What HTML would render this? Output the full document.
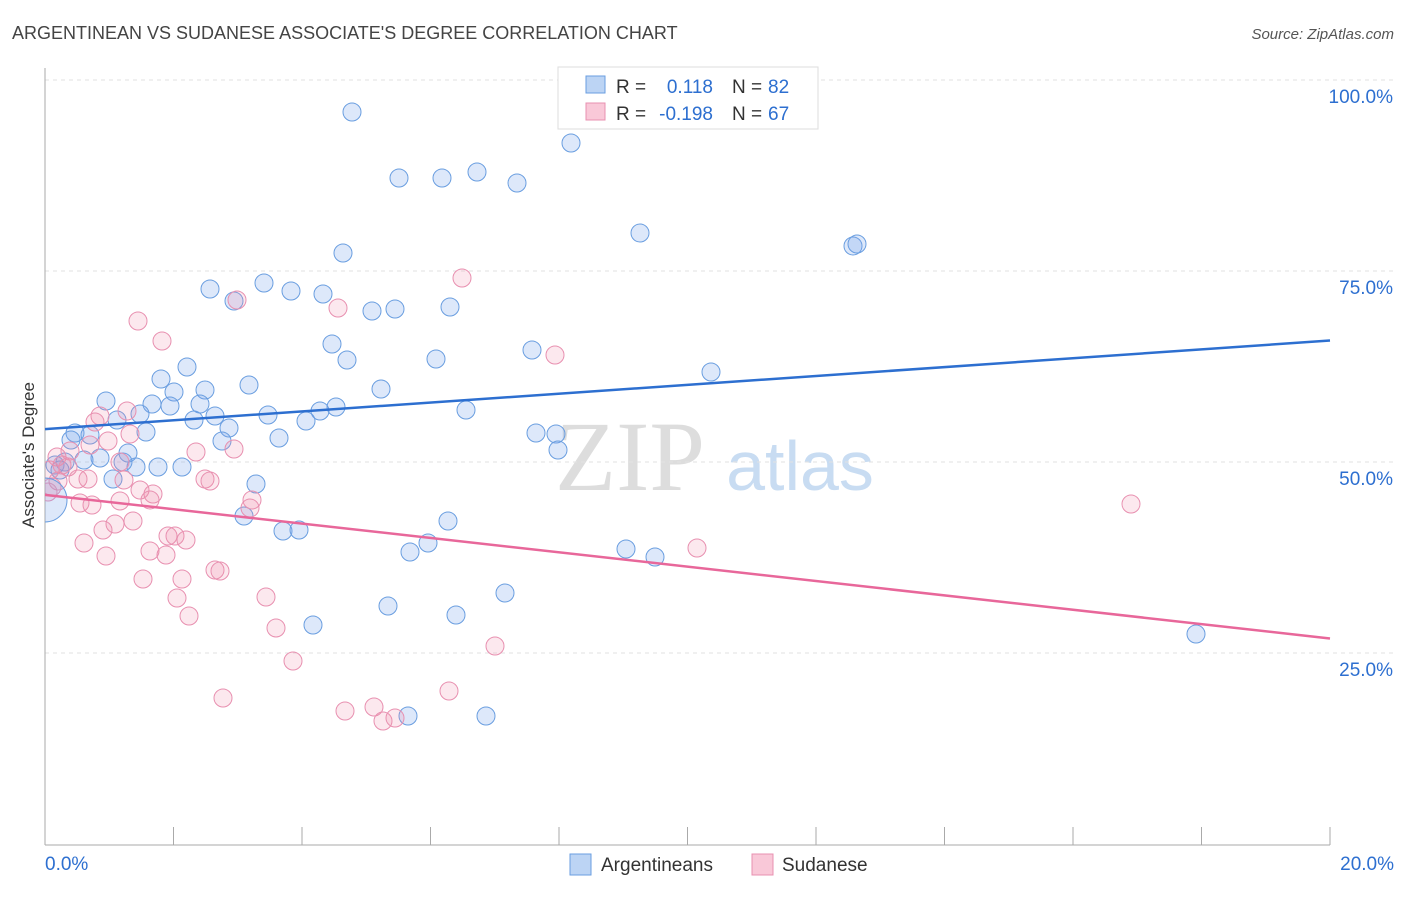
<!DOCTYPE html>
<html><head><meta charset="utf-8"><style>
body{margin:0;background:#fff;font-family:"Liberation Sans",sans-serif}
</style></head><body>
<svg id="c" width="1406" height="892" xmlns="http://www.w3.org/2000/svg">
<defs><clipPath id="pc"><rect x="45" y="60" width="1300" height="785"/></clipPath></defs>
<text x="12" y="39" font-size="18" fill="#444">ARGENTINEAN VS SUDANESE ASSOCIATE'S DEGREE CORRELATION CHART</text>
<text x="1394" y="39" font-size="15" fill="#555" font-style="italic" text-anchor="end">Source: ZipAtlas.com</text>
<text x="630" y="490" font-size="100" fill="#ddd" font-family="Liberation Serif" text-anchor="middle">ZIP</text>
<text x="800" y="490" font-size="70" fill="#c8dcf2" text-anchor="middle">atlas</text>
<g id="grid"></g><g id="axes"></g><g id="pts" clip-path="url(#pc)"></g><g id="lines"></g>
<text x="34" y="455" font-size="17" fill="#333" text-anchor="middle" transform="rotate(-90 34 455)">Associate's Degree</text>
<g>
<rect x="558" y="67" width="260" height="62" fill="#fff" stroke="#ddd"/>
<rect x="586" y="76" width="19" height="17" fill="#bcd4f4" stroke="#6a9ee0"/>
<rect x="586" y="103" width="19" height="17" fill="#f9c8d8" stroke="#e890b0"/>
<text x="616" y="93" font-size="19" fill="#333">R =</text>
<text x="713" y="93" font-size="19" fill="#2d6fd0" text-anchor="end">0.118</text>
<text x="732" y="93" font-size="19" fill="#333">N =</text>
<text x="768" y="93" font-size="19" fill="#2d6fd0">82</text>
<text x="616" y="120" font-size="19" fill="#333">R =</text>
<text x="713" y="120" font-size="19" fill="#2d6fd0" text-anchor="end">-0.198</text>
<text x="732" y="120" font-size="19" fill="#333">N =</text>
<text x="768" y="120" font-size="19" fill="#2d6fd0">67</text>
</g>
<g>
<rect x="570" y="854" width="21" height="21" fill="#bcd4f4" stroke="#6a9ee0"/>
<text x="601" y="871" font-size="19" fill="#333">Argentineans</text>
<rect x="752" y="854" width="21" height="21" fill="#f9c8d8" stroke="#e890b0"/>
<text x="782" y="871" font-size="19" fill="#333">Sudanese</text>
</g>
</svg>
<script>
const yTicks=[25,50,75,100];
const yTickLabels=["25.0%","50.0%","75.0%","100.0%"];
const blueX=[352,571,399,442,477,517,640,853,857,343,264,210,291,323,234,372,395,450,332,347,532,436,187,711,161,249,381,174,205,106,152,200,170,140,117,215,268,320,336,306,466,194,146,229,75,90,536,556,71,279,222,558,128,100,84,55,65,136,158,182,123,113,256,244,448,283,299,428,410,626,655,388,505,456,313,1196,408,486,60].map(p=>(p-45)/1285*20);
const blueY=[112,143,178,178,172,183,233,246,244,253,283,289,291,294,301,311,309,307,344,360,350,359,367,372,379,385,389,392,390,401,404,404,406,414,420,416,415,411,407,421,410,420,432,428,433,435,433,434,440,438,441,450,453,458,460,465,462,467,467,467,462,479,484,516,521,531,530,543,552,549,557,606,593,615,625,634,716,716,470].map(p=>(844-p)/764*100);
const pinkX=[462,237,338,138,162,555,100,127,95,130,108,90,234,196,70,57,62,68,120,50,78,58,88,205,210,52,48,153,124,140,150,120,252,80,92,250,133,115,103,168,175,186,84,150,166,106,143,182,215,220,177,266,189,276,697,1131,293,495,449,223,345,374,383,395].map(p=>(p-45)/1285*20);
const pinkY=[278,300,308,321,341,355,416,411,422,434,441,445,449,452,451,457,465,467,462,470,479,481,479,479,481,487,492,494,480,490,500,501,500,503,505,508,521,524,530,536,536,540,543,551,555,556,579,579,570,571,598,597,616,628,548,504,661,646,691,698,711,707,721,718].map(p=>(844-p)/764*100);
const blueLine=[54.3,65.9], pinkLine=[45.7,26.9];
const X=v=>45+v/20*1285, Y=v=>844-v/100*764;
const NS="http://www.w3.org/2000/svg";
function mk(t,a,p){const e=document.createElementNS(NS,t);for(const k in a)e.setAttribute(k,a[k]);document.getElementById(p).appendChild(e);return e;}
yTicks.forEach((t,i)=>{
 let l=mk('line',{x1:45,x2:1394,y1:Y(t),y2:Y(t),stroke:'#e2e2e2','stroke-dasharray':'4 4'},'grid');
 
 
 let tx=mk('text',{x:1393,y:Y(t)+23,'font-size':19,fill:'#2d6fd0','text-anchor':'end'},'axes');tx.textContent=yTickLabels[i];
 
 
});
mk('line',{x1:45,x2:45,y1:68,y2:845,stroke:'#aaa'},'axes');
mk('line',{x1:45,x2:1330,y1:845,y2:845,stroke:'#aaa'},'axes');
for(let i=0;i<=10;i++){mk('line',{x1:X(i*2),x2:X(i*2),y1:827,y2:845,stroke:'#aaa'},'axes');}
let a=mk('text',{x:45,y:870,'font-size':19,fill:'#2d6fd0'},'axes');a.textContent='0.0%';


let b=mk('text',{x:1394,y:870,'font-size':19,fill:'#2d6fd0','text-anchor':'end'},'axes');b.textContent='20.0%';


function pts(xs,ys,f,s,n){xs.forEach((x,i)=>{const c=mk('circle',{cx:X(x),cy:Y(ys[i]),r:9,fill:f,stroke:s,'stroke-width':1},'pts');
 
 });}
pts(blueX,blueY,'rgba(120,165,235,0.25)','#6a9ee0','argentinean-point');
pts(pinkX,pinkY,'rgba(240,140,170,0.2)','#e890b0','sudanese-point');
let big=mk('circle',{cx:45,cy:500,r:22,fill:'rgba(120,165,235,0.25)',stroke:'#6a9ee0'},'pts');


let bl=mk('line',{x1:X(0),y1:Y(blueLine[0]),x2:X(20),y2:Y(blueLine[1]),stroke:'#2d6fd0','stroke-width':2.5},'lines');


let pl=mk('line',{x1:X(0),y1:Y(pinkLine[0]),x2:X(20),y2:Y(pinkLine[1]),stroke:'#e8679a','stroke-width':2.5},'lines');


</script>
</body></html>
